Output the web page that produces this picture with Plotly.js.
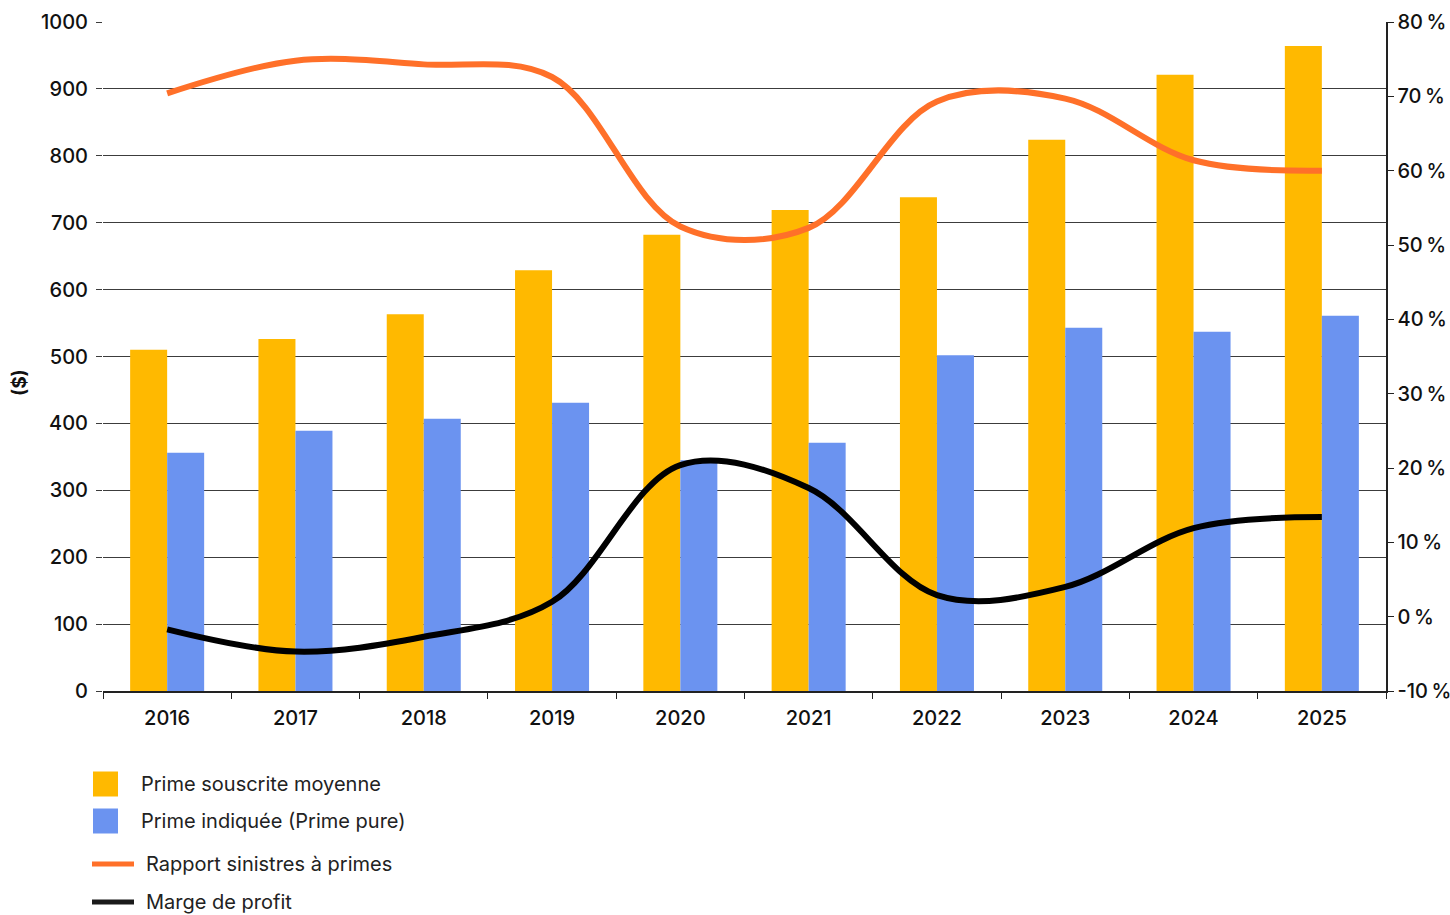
<!DOCTYPE html>
<html lang="fr">
<head>
<meta charset="utf-8">
<script src="https://cdn.plot.ly/plotly-3.0.1.min.js"></script>
<style>
  html, body { margin: 0; padding: 0; background: #ffffff; }
  #chart { width: 1450px; height: 915px; }
</style>
</head>
<body>
<div id="chart"></div>
<script>
// Years on the category axis
const years = ['2016', '2017', '2018', '2019', '2020', '2021', '2022', '2023', '2024', '2025'];

// Premiums in dollars (left axis)
const primeSouscrite = [510, 526, 563, 629, 682, 719, 738, 824, 921, 964];
const primeIndiquee  = [356, 389, 407, 431, 345, 371, 502, 543, 537, 561];

// Ratios in percent (right axis)
const rapportSinistres = [70.4, 74.8, 74.3, 72.6, 52.5, 52.3, 69.3, 69.7, 61.4, 60.0];
const margeProfit      = [-1.7, -4.7, -2.7, 2.0, 20.4, 17.3, 2.9, 4.0, 11.9, 13.4];

// Right axis ticks (plain hyphen for the negative value)
const pctTickVals = [-10, 0, 10, 20, 30, 40, 50, 60, 70, 80];
const pctTickText = ['-10\u2009%', '0\u2009%', '10\u2009%', '20\u2009%', '30\u2009%',
                     '40\u2009%', '50\u2009%', '60\u2009%', '70\u2009%', '80\u2009%'];

// Legend labels and axis title
const labels = [
  'Prime souscrite moyenne',
  'Prime indiquée (Prime pure)',
  'Rapport sinistres à primes',
  'Marge de profit'
];
const yTitle = '($)';

const colors = {
  yellow: '#FFB900',
  blue: '#6B93F0',
  orange: '#FF7029',
  black: '#000000',
  grid: '#3c3c3c',
  text: '#111111'
};

const W = 1450, H = 915;
const M = { l: 103, r: 64, t: 22, b: 224 };
const plotW = W - M.l - M.r;
const plotH = H - M.t - M.b;
// pixel -> paper coordinate helpers for the hand-built legend
const px = x => (x - M.l) / plotW;
const py = y => (H - M.b - y) / plotH;

const FONT = 'Inter, "Liberation Sans", Arial, sans-serif';
const tickFont = { family: FONT, size: 20, color: colors.text, weight: 500 };

const traces = [
  { type: 'bar', name: labels[0], x: years, y: primeSouscrite,
    marker: { color: colors.yellow }, yaxis: 'y', hoverinfo: 'x+y' },
  { type: 'bar', name: labels[1], x: years, y: primeIndiquee,
    marker: { color: colors.blue }, yaxis: 'y', hoverinfo: 'x+y' },
  { type: 'scatter', mode: 'lines', name: labels[2], x: years, y: rapportSinistres,
    yaxis: 'y2', line: { color: colors.orange, width: 6, shape: 'spline', smoothing: 1 } },
  { type: 'scatter', mode: 'lines', name: labels[3], x: years, y: margeProfit,
    yaxis: 'y2', line: { color: colors.black, width: 6, shape: 'spline', smoothing: 1 } }
];

// Legend: swatches as shapes, labels as annotations
const legendRows = [
  { kind: 'box',  color: colors.yellow, y: 784, text: labels[0], tx: 139 },
  { kind: 'box',  color: colors.blue,   y: 821, text: labels[1], tx: 139 },
  { kind: 'line', color: colors.orange, y: 864, text: labels[2], tx: 144 },
  { kind: 'line', color: '#1a1a1a',     y: 902, text: labels[3], tx: 144 }
];

const shapes = [];
const annotations = [];
legendRows.forEach(r => {
  if (r.kind === 'box') {
    shapes.push({ type: 'rect', xref: 'paper', yref: 'paper',
      x0: px(93), x1: px(118), y0: py(r.y + 12.5), y1: py(r.y - 12.5),
      fillcolor: r.color, line: { width: 0 } });
  } else {
    shapes.push({ type: 'line', xref: 'paper', yref: 'paper',
      x0: px(92), x1: px(134), y0: py(r.y), y1: py(r.y),
      line: { color: r.color, width: 5 } });
  }
  annotations.push({ xref: 'paper', yref: 'paper', x: px(r.tx), y: py(r.y),
    xanchor: 'left', yanchor: 'middle', showarrow: false, text: r.text,
    font: { family: FONT, size: 20, color: '#222222' } });
});

// Left axis title, rotated
annotations.push({ xref: 'paper', yref: 'paper', x: px(19), y: py(383),
  xanchor: 'center', yanchor: 'middle', showarrow: false, textangle: -90,
  text: yTitle, font: { family: FONT, size: 19, color: colors.text, weight: 700 } });

const layout = {
  width: W, height: H,
  margin: { l: M.l, r: M.r, t: M.t, b: M.b, pad: 0 },
  paper_bgcolor: '#ffffff',
  plot_bgcolor: '#ffffff',
  showlegend: false,
  barmode: 'group',
  bargap: 0.423,
  bargroupgap: 0,
  font: { family: FONT, size: 20, color: colors.text },
  xaxis: {
    type: 'category',
    tickson: 'boundaries',
    ticks: 'outside', ticklen: 6, tickwidth: 1, tickcolor: '#222',
    ticklabelstandoff: 8,
    showline: true, linecolor: '#222', linewidth: 1.5,
    showgrid: false,
    tickfont: tickFont
  },
  yaxis: {
    range: [0, 1000], dtick: 100,
    showgrid: true, gridcolor: colors.grid, gridwidth: 1,
    ticks: 'outside', ticklen: 6, tickcolor: colors.grid, tickwidth: 1,
    ticklabelstandoff: 4,
    showline: false, zeroline: false,
    tickfont: tickFont
  },
  yaxis2: {
    overlaying: 'y', side: 'right',
    range: [-10, 80],
    tickmode: 'array', tickvals: pctTickVals, ticktext: pctTickText,
    showgrid: false, zeroline: false,
    showline: true, linecolor: '#222', linewidth: 1.5,
    ticks: 'outside', ticklen: 6, tickcolor: '#222', tickwidth: 1,
    ticklabelstandoff: 0,
    tickfont: tickFont
  },
  shapes: shapes,
  annotations: annotations
};

Plotly.newPlot('chart', traces, layout, { displayModeBar: false, staticPlot: true });
</script>
</body>
</html>
